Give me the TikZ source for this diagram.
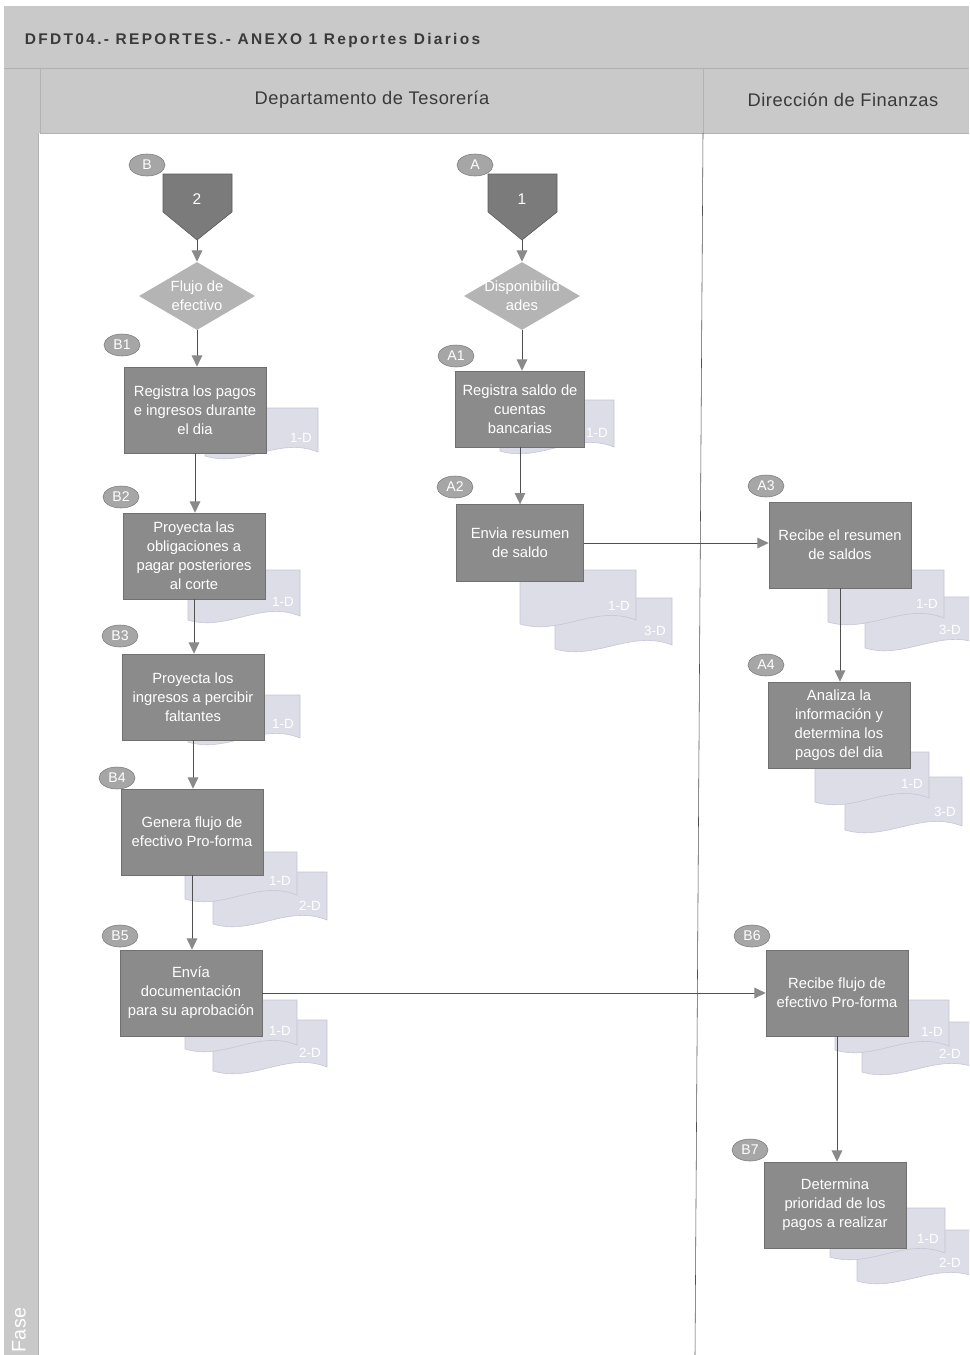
\documentclass[tikz,border=0pt]{standalone}
\usepackage{fontspec}
\setmainfont{Liberation Sans}
\newfontfamily\titulofont[LetterSpace=15]{Liberation Sans}
\newfontfamily\encabfont[LetterSpace=3]{Liberation Sans}
\usetikzlibrary{shapes.geometric,arrows.meta}

\definecolor{fondogris}{HTML}{C9C9C9}
\definecolor{rejilla}{HTML}{B2B2B2}
\definecolor{carril}{HTML}{505050}
\definecolor{cajagris}{HTML}{8B8B8B}
\definecolor{cajaborde}{HTML}{707070}
\definecolor{ovalgris}{HTML}{A6A6A6}
\definecolor{ovalborde}{HTML}{7E7E7E}
\definecolor{rombogris}{HTML}{B4B4B4}
\definecolor{offgris}{HTML}{7B7B7B}
\definecolor{offborde}{HTML}{5A5A5A}
\definecolor{hojafondo}{HTML}{DDDDE8}
\definecolor{hojaborde}{HTML}{C4C4D4}
\definecolor{linea}{HTML}{505050}
\definecolor{puntagris}{HTML}{8A8A8A}
\definecolor{textogris}{HTML}{3A3A3A}

\tikzset{
  proceso/.style={rectangle, draw=cajaborde, fill=cajagris, text=white, align=center,
    font=\fontsize{10.5}{13.5}\selectfont, minimum width=3.55cm, minimum height=2.15cm, inner sep=1pt},
  conector/.style={ellipse, draw=ovalborde, fill=ovalgris, text=white,
    font=\fontsize{10}{12}\selectfont, minimum width=0.9cm, minimum height=0.55cm, inner sep=0pt},
  decision/.style={diamond, fill=rombogris, minimum width=2.9cm, minimum height=1.7cm, inner sep=0pt},
  rombotexto/.style={text=white, align=center, font=\fontsize{10.5}{13.5}\selectfont},
  offpage/.style={draw=offborde, fill=offgris},
  numero/.style={text=white, font=\fontsize{11}{13}\selectfont},
  hoja/.style={draw=hojaborde, fill=hojafondo},
  hojatexto/.style={text=white, font=\fontsize{9.5}{11}\selectfont, inner sep=0pt},
  flecha/.style={draw=linea, line width=0.7pt, -{Triangle[length=8pt,width=7.5pt,color=puntagris]}},
  titulo/.style={text=textogris, font=\titulofont\bfseries\fontsize{11}{13}\selectfont},
  encab/.style={text=textogris, font=\encabfont\fontsize{13}{15}\selectfont},
}

% documento con borde ondulado: nombre, x1, y1, x2, y2, texto
\newcommand{\hoja}[7][17]{%
  \draw[hoja] (#3,#4) -- (#5,#4) -- (#5,#6-10)
    .. controls +({-0.35*(#5-#3)},-16) and +({0.35*(#5-#3)},12) .. (#3,#6-6) -- cycle;
  \node[hojatexto] (#2) at (#5-#1,#6-24) {#7};
}

\begin{document}
\begin{tikzpicture}[x=0.025cm,y=-0.025cm]
  \useasboundingbox (0,0) rectangle (969,1355);
  \clip (0,0) rectangle (969,1355);

  % fondo y carriles
  \fill[fondogris] (4,6) rectangle (969,133);
  \fill[fondogris] (4,133) rectangle (38,1355);
  \draw[rejilla] (4,68) -- (969,68);
  \draw[rejilla] (40,68) -- (40,133) -- (969,133);
  \draw[rejilla] (38,133) -- (38,1355);
  \draw[rejilla] (703,68) -- (703,133);
  \draw[carril] (703,133) -- (695,1355);

  \node[titulo, anchor=west] (tit) at (20,40) {DFDT04.- REPORTES.- ANEXO 1 Reportes Diarios};
  \node[encab] (depT) at (372,100) {Departamento de Tesorería};
  \node[encab] (dirF) at (843,100) {Dirección de Finanzas};
  \node[text=white, font=\encabfont\fontsize{14}{16}\selectfont, rotate=90] (fase) at (19,1330) {Fase};

  % documentos
  \hoja{hB1}{205}{408}{318}{462}{1-D}
  \hoja{hB2}{188}{570}{300}{626}{1-D}
  \hoja{hB3}{188}{695}{300}{748}{1-D}
  \hoja{hB4b}{213}{872}{327}{930}{2-D}
  \hoja{hB4a}{185}{852}{297}{905}{1-D}
  \hoja{hB5b}{213}{1020}{327}{1077}{2-D}
  \hoja{hB5a}{185}{1000}{297}{1055}{1-D}
  \hoja{hA1}{500}{400}{614}{457}{1-D}
  \hoja{hA2b}{555}{598}{672}{655}{3-D}
  \hoja{hA2a}{520}{570}{636}{630}{1-D}
  \hoja[30]{hA3b}{865}{597}{980}{654}{3-D}
  \hoja{hA3a}{828}{570}{944}{628}{1-D}
  \hoja{hA4b}{845}{777}{962}{836}{3-D}
  \hoja{hA4a}{815}{752}{929}{808}{1-D}
  \hoja[26]{hB6b}{862}{1022}{976}{1078}{2-D}
  \hoja{hB6a}{835}{1000}{949}{1056}{1-D}
  \hoja[26]{hB7b}{857}{1230}{976}{1287}{2-D}
  \hoja{hB7a}{830}{1208}{945}{1263}{1-D}

  % conectores fuera de pagina
  \draw[offpage] (163,174) -- (232,174) -- (232,212) -- (197,240) -- (163,212) -- cycle;
  \draw[offpage] (488,174) -- (557,174) -- (557,212) -- (522,240) -- (488,212) -- cycle;
  \node[numero] (n2) at (197,199) {2};
  \node[numero] (n1) at (522,199) {1};
  \coordinate (tB) at (197,240);
  \coordinate (tA) at (522,240);

  % decisiones
  \node[decision, label={[rombotexto]center:{Flujo de\\efectivo}}] (dB) at (197,296) {};
  \node[decision, label={[rombotexto]center:{Disponibilid\\ades}}] (dA) at (522,296) {};

  % actividades
  \node[proceso] (B1) at (195,410) {Registra los pagos\\e ingresos durante\\el dia};
  \node[proceso] (B2) at (194,556) {Proyecta las\\obligaciones a\\pagar posteriores\\al corte};
  \node[proceso] (B3) at (193,697) {Proyecta los\\ingresos a percibir\\faltantes};
  \node[proceso] (B4) at (192,832) {Genera flujo de\\efectivo Pro-forma};
  \node[proceso] (B5) at (191,993) {Envía\\documentación\\para su aprobación};
  \node[proceso, minimum width=3.22cm, minimum height=1.9cm] (A1) at (520,409) {Registra saldo de\\cuentas\\bancarias};
  \node[proceso, minimum width=3.18cm, minimum height=1.92cm] (A2) at (520,543) {Envia resumen\\de saldo};
  \node[proceso] (A3) at (840,545) {Recibe el resumen\\de saldos};
  \node[proceso] (A4) at (839,725) {Analiza la\\información y\\determina los\\pagos del dia};
  \node[proceso] (B6) at (837,993) {Recibe flujo de\\efectivo Pro-forma};
  \node[proceso] (B7) at (835,1205) {Determina\\prioridad de los\\pagos a realizar};

  % etiquetas
  \node[conector] (cB) at (147,165) {B};
  \node[conector] (cA) at (475,165) {A};
  \node[conector] (cB1) at (122,345) {B1};
  \node[conector] (cB2) at (121,497) {B2};
  \node[conector] (cB3) at (120,636) {B3};
  \node[conector] (cB4) at (117,778) {B4};
  \node[conector] (cB5) at (120,936) {B5};
  \node[conector] (cA1) at (456,356) {A1};
  \node[conector] (cA2) at (455,487) {A2};
  \node[conector] (cA3) at (766,486) {A3};
  \node[conector] (cA4) at (766,665) {A4};
  \node[conector] (cB6) at (752,936) {B6};
  \node[conector] (cB7) at (750,1150) {B7};

  % flujo
  \draw[flecha] (tB) -- (dB.north);
  \draw[flecha] (dB.south) -- (dB.south |- B1.north);
  \draw[flecha] (B1.south) -- (B1.south |- B2.north);
  \draw[flecha] (B2.south) -- (B2.south |- B3.north);
  \draw[flecha] (B3.south) -- (B3.south |- B4.north);
  \draw[flecha] (B4.south) -- (B4.south |- B5.north);
  \draw[flecha] (B5.east) -- (B5.east -| B6.west);
  \draw[flecha] (B6.south) -- (B6.south |- B7.north);
  \draw[flecha] (tA) -- (dA.north);
  \draw[flecha] (dA.south) -- (dA.south |- A1.north);
  \draw[flecha] (A1.south) -- (A1.south |- A2.north);
  \draw[flecha] (A2.east) -- (A2.east -| A3.west);
  \draw[flecha] (A3.south) -- (A3.south |- A4.north);
\end{tikzpicture}
\end{document}
